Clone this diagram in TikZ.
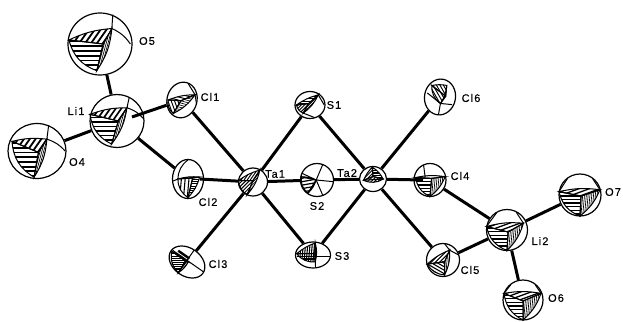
\documentclass[tikz,border=0pt]{standalone}
\usepackage{fontspec}
\setmainfont[LetterSpace=10,FakeBold=0.35]{Liberation Sans}
\usetikzlibrary{shapes.geometric}
\tikzset{
  atom/.style={ellipse,draw=black,line width=1.2pt,fill=white,inner sep=0pt},
  bond/.style={line width=3pt,black},
  lab/.style={font=\fontsize{11}{13}\selectfont,inner sep=0pt,text=black},
  atomframe/.style n args={4}{shift={(#1.center)},rotate=#4,x=#2pt,y=-#3pt,/utils/exec={\def\rxx{#2}}},
  edge line/.style={line width=1pt,black},
}
% one hatched face: #1 closed path, #2 angle, #3 spacing in px
\newcommand\hatchface[3]{%
  \begin{scope}
    \clip #1;
    \pgfmathsetmacro\hstep{#3/\rxx}
    \pgfmathsetmacro\hsecond{-1.5+\hstep}
    \pgfmathsetmacro\hlw{0.36*#3}
    \foreach \t in {-1.5,\hsecond,...,1.5}
      \draw[rotate=#2,line width=\hlw pt] (-1.6,\t) -- (1.6,\t);
  \end{scope}
  \draw[edge line] #1;
}
% #1 A, #2 B, #3 C, #4 I, #5-#7 hatch angles, #8 extra lines, #9 hatch spacing
\newcommand\oct[9]{%
  \hatchface{(#1) to[bend left=10] (#2) -- (#4) -- cycle}{#5}{#9}
  \hatchface{(#1) -- (#4) -- (#3) to[bend left=28] cycle}{#6}{#9}
  \hatchface{(#2) to[bend left=14] (#3) -- (#4) -- cycle}{#7}{1.8}
  \draw[edge line] #8;
}
\begin{document}
\begin{tikzpicture}[x=1pt,y=-1pt]
\useasboundingbox (0,0) rectangle (623,321);
% free bond ends that lie inside atoms
\coordinate (Li1f) at (132,117);
\coordinate (Cl2f) at (200,179);
\coordinate (Cl4f) at (423,180);
% atoms
\node[atom,minimum width=64pt,minimum height=62pt] (O5) at (100,44) {};
\node[atom,minimum width=54pt,minimum height=53pt] (Li1) at (117,121) {};
\node[atom,minimum width=58pt,minimum height=55pt] (O4) at (37,151) {};
\node[atom,minimum width=30pt,minimum height=36pt,rotate=-15] (Cl1) at (182,100) {};
\node[atom,minimum width=31pt,minimum height=39pt] (Cl2) at (188,179) {};
\node[atom,minimum width=39pt,minimum height=28pt,rotate=-35] (Cl3) at (187,262) {};
\node[atom,minimum width=29pt,minimum height=28pt] (Ta1) at (253,182) {};
\node[atom,minimum width=30pt,minimum height=27pt] (S1) at (310,105) {};
\node[atom,minimum width=33pt,minimum height=33pt] (S2) at (317,180) {};
\node[atom,minimum width=35pt,minimum height=26pt] (S3) at (313,255) {};
\node[atom,minimum width=27pt,minimum height=25pt] (Ta2) at (373,179) {};
\node[atom,minimum width=31pt,minimum height=36pt,rotate=-10] (Cl6) at (440,97) {};
\node[atom,minimum width=32pt,minimum height=33pt] (Cl4) at (430,180) {};
\node[atom,minimum width=33pt,minimum height=33pt] (Cl5) at (443,260) {};
\node[atom,minimum width=41pt,minimum height=41pt] (Li2) at (507,230) {};
\node[atom,minimum width=42pt,minimum height=42pt] (O7) at (580,195) {};
\node[atom,minimum width=40pt,minimum height=40pt] (O6) at (523,300) {};
% bonds
\begin{scope}[every path/.style={bond}]
\draw (Li1) -- (O5);
\draw (Li1) -- (O4);
\draw (Li1f) -- (Cl1);
\draw (Li1) -- (Cl2);
\draw (Cl1) -- (Ta1);
\draw (Cl2f) -- (Ta1);
\draw (Cl3) -- (Ta1);
\draw (Ta1) -- (S1);
\draw (Ta1) -- (S2);
\draw (Ta1) -- (S3);
\draw (S1) -- (Ta2);
\draw (S2) -- (Ta2);
\draw (S3) -- (Ta2);
\draw (Cl4f) -- (Ta2);
\draw (Cl5) -- (Ta2);
\draw (Cl6) -- (Ta2);
\draw (Cl4) -- (Li2);
\draw (Cl5) -- (Li2);
\draw (Li2) -- (O6);
\draw (Li2) -- (O7);
\end{scope}
% octants
\begin{scope}[atomframe={O5}{32}{31}{0}]
\oct{-0.97,-0.13}{0.37,-0.5}{-0.1,0.86}{0.1,0}{55}{0}{75}{(0.37,-0.5)--(0.4,-0.95) (0.37,-0.5) to[bend left=15] (0.95,0)}{5}
\end{scope}
\begin{scope}[atomframe={Li1}{27}{26.5}{0}]
\oct{-1,-0.25}{0.37,-0.5}{-0.2,0.87}{0.05,0}{55}{0}{75}{(0.37,-0.5)--(0.45,-0.88) (0.37,-0.5) to[bend left=15] (0.97,-0.1)}{4.6}
\end{scope}
\begin{scope}[atomframe={O4}{29}{27.5}{0}]
\oct{-0.86,-0.35}{0.34,-0.43}{-0.1,0.95}{0.05,0.05}{55}{0}{75}{(0.34,-0.43)--(0.4,-0.92) (0.34,-0.43) to[bend left=15] (0.97,0)}{5}
\end{scope}
\begin{scope}[atomframe={Cl1}{15}{18}{-15}]
\oct{-0.9,0.2}{0.75,-0.47}{-0.33,0.85}{-0.05,0.05}{0}{-55}{0}{(0.75,-0.47)--(0.1,-0.98) (0.75,-0.47)--(1,0)}{2.6}
\end{scope}
\begin{scope}[atomframe={Cl2}{15.5}{19.5}{0}]
\oct{-0.65,0}{0.75,-0.1}{0,0.95}{0.3,-0.05}{0}{85}{0}{(-0.65,0)--(-0.95,0.1) (-0.65,0) to[bend left=25] (0,-0.98)}{3}
\end{scope}
\begin{scope}[atomframe={Cl3}{19.5}{14}{-35}]
\oct{-0.95,0}{0.05,-0.05}{-0.05,0.98}{-0.1,0}{60}{35}{0}{(-0.95,-0.1)--(0.98,-0.1) (-0.05,-0.98)--(-0.05,0.98); \draw[line width=2.4pt] (-0.7,-0.3)--(0,-0.3)}{3}
\end{scope}
\begin{scope}[atomframe={Ta1}{14.5}{14}{0}]
\oct{-1,-0.1}{0.47,-0.85}{-0.4,0.9}{0,-0.1}{55}{45}{45}{(0,-0.1)--(0,-0.1)}{2.6}
\end{scope}
\begin{scope}[atomframe={S1}{15}{13.5}{0}]
\oct{-0.9,0}{0.55,-0.75}{-0.45,0.6}{-0.1,-0.1}{0}{45}{45}{(0.55,-0.75)--(0.95,0) (-0.45,0.6)--(0.3,0.93)}{2.6}
\end{scope}
\begin{scope}[atomframe={S2}{16.5}{16.5}{0}]
\oct{-0.95,-0.2}{-0.05,0}{-0.55,0.8}{-0.05,0}{0}{10}{0}{(-0.05,0)--(0.35,-0.94) (-0.05,0)--(0.98,0.1) (-0.05,0)--(0.35,0.93) (-0.05,0)--(-0.9,-0.4)}{3.4}
\end{scope}
\begin{scope}[atomframe={S3}{17.5}{13}{0}]
\oct{-0.93,-0.1}{0.13,-0.92}{0.13,0.53}{0.1,-0.1}{85}{85}{0}{(0.13,-0.92)--(0.13,0.98) (-0.9,0.1)--(0.97,0.1); \draw[line width=2.4pt] (-0.6,0.32)--(0.15,0.32)}{3}
\end{scope}
\begin{scope}[atomframe={Ta2}{13.5}{12.5}{0}]
\oct{-0.7,0.1}{-0.05,-0.95}{0.75,0}{0,-0.2}{45}{45}{0}{(-0.7,0.1)--(0.75,0)}{2.6}
\end{scope}
\begin{scope}[atomframe={Cl6}{15.5}{18}{-10}]
\oct{-0.65,-0.55}{0.3,-0.7}{0.1,0.35}{0.35,-0.1}{-50}{-50}{0}{(0.1,0.35)--(-0.85,-0.1) (0.1,0.35)--(0.85,0.3) (0.1,0.35)--(0.1,0.98)}{2.6}
\end{scope}
\begin{scope}[atomframe={Cl4}{16}{16.5}{0}]
\oct{-0.9,-0.15}{0.95,-0.2}{0,1}{0.1,-0.1}{0}{0}{85}{(-0.3,-0.15)--(-0.4,-0.9)}{3.2}
\end{scope}
\begin{scope}[atomframe={Cl5}{16.5}{16.5}{0}]
\oct{-0.95,0.25}{0.4,-0.6}{0.1,0.9}{0.1,0.1}{45}{-30}{85}{(0.4,-0.6)--(0.1,-0.98) (0.4,-0.6)--(0.95,-0.3)}{3}
\end{scope}
\begin{scope}[atomframe={Li2}{20.5}{20.5}{0}]
\oct{-1,-0.17}{0.8,-0.33}{0,1}{0.05,0.1}{20}{0}{85}{(0.8,-0.33)--(0.45,-0.87) (-1,-0.17)--(-0.5,-0.85)}{3.6}
\end{scope}
\begin{scope}[atomframe={O7}{21}{21}{0}]
\oct{-1,-0.16}{0.95,-0.25}{0,1}{0.05,0.05}{20}{0}{85}{(0.95,-0.25)--(0.6,-0.78) (-1,-0.16)--(-0.6,-0.78)}{3.6}
\end{scope}
\begin{scope}[atomframe={O6}{20}{20}{0}]
\oct{-0.95,-0.33}{0.9,-0.33}{0,1}{0,0.05}{20}{0}{85}{(0.9,-0.33)--(0.6,-0.78) (-0.95,-0.33)--(-0.6,-0.78)}{3.6}
\end{scope}
% labels
\node[lab] (lO5) at (147,41) {O5};
\node[lab] (lLi1) at (76,111) {Li1};
\node[lab] (lO4) at (77,162) {O4};
\node[lab] (lCl1) at (210,97) {Cl1};
\node[lab] (lCl2) at (208,202) {Cl2};
\node[lab] (lCl3) at (218,264) {Cl3};
\node[lab] (lTa1) at (275,174) {Ta1};
\node[lab] (lTa2) at (347,173) {Ta2};
\node[lab] (lS1) at (334,105) {S1};
\node[lab] (lS2) at (317,206) {S2};
\node[lab] (lS3) at (342,256) {S3};
\node[lab] (lCl4) at (460,176) {Cl4};
\node[lab] (lCl5) at (470,270) {Cl5};
\node[lab] (lCl6) at (471,98) {Cl6};
\node[lab] (lLi2) at (540,241) {Li2};
\node[lab] (lO7) at (613,192) {O7};
\node[lab] (lO6) at (556,298) {O6};
\end{tikzpicture}
\end{document}
